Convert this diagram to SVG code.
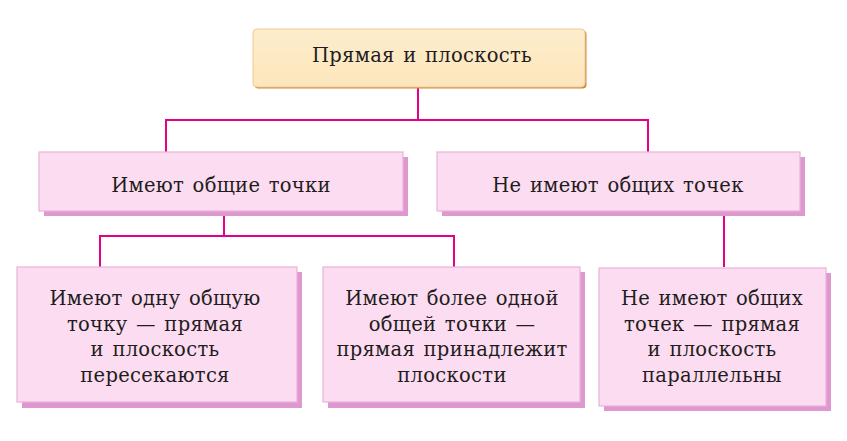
<svg xmlns="http://www.w3.org/2000/svg" width="847" height="441" viewBox="0 0 847 441">
<defs>
<linearGradient id="gTop" x1="0" y1="0" x2="0" y2="1">
<stop offset="0" stop-color="#fdedcc"/>
<stop offset="1" stop-color="#fde6bc"/>
</linearGradient>
</defs>
<style>
.t{font-family:"DejaVu Serif","Liberation Serif",serif;font-size:19.5px;fill:#231c1e;text-anchor:middle;letter-spacing:0.3px;word-spacing:2px}
.box{fill:#fcdcf0;stroke:#eab2d9;stroke-width:1.2}
.sh{fill:#df98cf}
.c{fill:none;stroke:#e5008a;stroke-width:2}
</style>
<rect width="847" height="441" fill="#ffffff"/>
<g id="connectors">
<polyline class="c" points="418,87 418,120 166,120 166,152"/>
<polyline class="c" points="418,120 648,120 648,152"/>
<polyline class="c" points="224,211 224,236 100,236 100,267"/>
<polyline class="c" points="224,236 454,236 454,267"/>
<polyline class="c" points="724,215 724,267"/>
</g>
<g id="root">
<rect x="254.5" y="30.5" width="332" height="58" rx="4" fill="#d08a3c"/>
<rect x="253" y="29" width="332" height="58" rx="4" fill="url(#gTop)" stroke="#f3c890" stroke-width="1"/>
<text class="t" x="422" y="62">Прямая и плоскость</text>
</g>
<g id="common">
<rect class="sh" x="44" y="157" width="364" height="59"/>
<rect class="box" x="39" y="152" width="364" height="59"/>
<text class="t" x="221" y="192">Имеют общие точки</text>
</g>
<g id="nocommon">
<rect class="sh" x="442" y="157" width="363" height="59"/>
<rect class="box" x="437" y="152" width="363" height="59"/>
<text class="t" x="618" y="192">Не имеют общих точек</text>
</g>
<g id="one">
<rect class="sh" x="22" y="272" width="280" height="136"/>
<rect class="box" x="17" y="267" width="280" height="135"/>
<text class="t" x="155" y="305">Имеют одну общую</text>
<text class="t" x="155" y="331">точку — прямая</text>
<text class="t" x="155" y="356">и плоскость</text>
<text class="t" x="155" y="382">пересекаются</text>
</g>
<g id="many">
<rect class="sh" x="328" y="272" width="257" height="136"/>
<rect class="box" x="323" y="267" width="257" height="135"/>
<text class="t" x="452" y="305">Имеют более одной</text>
<text class="t" x="452" y="331">общей точки —</text>
<text class="t" x="452" y="356">прямая принадлежит</text>
<text class="t" x="452" y="382">плоскости</text>
</g>
<g id="parallel">
<rect class="sh" x="604" y="273" width="227" height="138"/>
<rect class="box" x="599" y="268" width="227" height="138"/>
<text class="t" x="712" y="305">Не имеют общих</text>
<text class="t" x="712" y="331">точек — прямая</text>
<text class="t" x="712" y="356">и плоскость</text>
<text class="t" x="712" y="382">параллельны</text>
</g>
</svg>
